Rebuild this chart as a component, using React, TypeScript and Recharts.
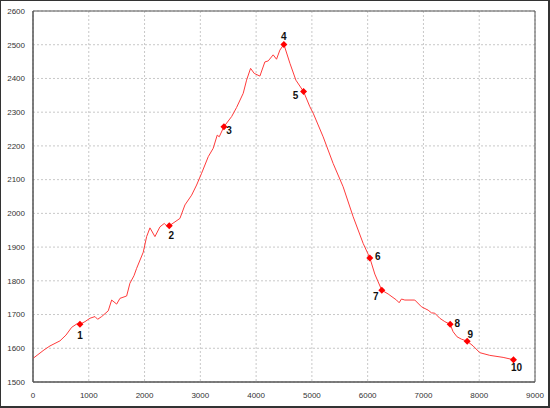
import { ComposedChart, Line, Scatter, XAxis, YAxis, CartesianGrid, ReferenceArea, LabelList } from 'recharts';

// distance along route (m) and elevation (m)
const distance = [
  0, 197, 305, 484, 591, 693, 783, 842, 932, 1021, 1111, 1159, 1231, 1349, 1410, 1500, 1559, 1679, 1738, 1810,
  1858, 1977, 2037, 2097, 2186, 2276, 2353, 2396, 2443, 2634, 2724, 2844, 2933, 3023, 3142, 3231, 3303, 3339, 3423,
  3561, 3650, 3769, 3829, 3901, 3966, 4068, 4157, 4217, 4306, 4366, 4426, 4498, 4606, 4713, 4851, 4964, 5023, 5202,
  5381, 5560, 5740, 5919, 6039, 6128, 6188, 6254, 6367, 6517, 6564, 6606, 6666, 6845, 6965, 7084, 7144, 7204, 7293,
  7383, 7479, 7532, 7603, 7682, 7784, 7890, 8010, 8189, 8428, 8614,
];
const elevation = [
  1570, 1595, 1607, 1622, 1639, 1662, 1672, 1671, 1679, 1689, 1694, 1686, 1694, 1711, 1743, 1731, 1748, 1755, 1793, 1815,
  1837, 1885, 1931, 1957, 1931, 1960, 1970, 1963, 1963, 1985, 2025, 2054, 2084, 2119, 2168, 2193, 2232, 2227, 2257,
  2287, 2314, 2356, 2395, 2430, 2415, 2407, 2449, 2452, 2470, 2457, 2484, 2501, 2445, 2395, 2361, 2316, 2297, 2227,
  2148, 2079, 1990, 1911, 1868, 1820, 1797, 1772, 1761, 1743, 1735, 1746, 1743, 1743, 1723, 1713, 1705, 1704, 1689,
  1679, 1671, 1649, 1634, 1627, 1621, 1607, 1587, 1579, 1573, 1566,
];

const wpNames = ['1', '2', '3', '4', '5', '6', '7', '8', '9', '10'];
const wpDistance = [842, 2443, 3423, 4498, 4851, 6039, 6254, 7479, 7784, 8614];
const wpElevation = [1671, 1963, 2257, 2501, 2361, 1868, 1772, 1671, 1621, 1566];

const xTicks = [0, 1000, 2000, 3000, 4000, 5000, 6000, 7000, 8000, 9000];
const yTicks = [1500, 1600, 1700, 1800, 1900, 2000, 2100, 2200, 2300, 2400, 2500, 2600];

// label placement around each waypoint marker (dx, dy in px)
const labelOffsets = [
  [0, 11], [2, 10], [5, 4], [0, -8], [-8, 4], [8, -1], [-6, 6], [7, -1], [3, -7], [3, 8],
];

const profile = distance.map((d, i) => ({ d, h: elevation[i] }));
const waypoints = wpNames.map((name, i) => ({ d: wpDistance[i], h: wpElevation[i], name }));

const tickStyle = { fontSize: 8, fill: '#333', fontFamily: 'Arial, "Liberation Sans", sans-serif' };

const Marker = (props: any) => {
  const { cx, cy } = props;
  const r = 3.5;
  return <polygon points={`${cx},${cy - r} ${cx + r},${cy} ${cx},${cy + r} ${cx - r},${cy}`} fill="#ff0000" />;
};

const WpLabel = (props: any) => {
  const { x, y, width, height, value, index } = props;
  const cx = x + (width || 0) / 2;
  const cy = y + (height || 0) / 2;
  const [dx, dy] = labelOffsets[index] || [0, 0];
  return (
    <text
      x={cx + dx}
      y={cy + dy}
      textAnchor="middle"
      dominantBaseline="central"
      fontSize={10}
      fontWeight="bold"
      fontFamily='Arial, "Liberation Sans", sans-serif'
      fill="#111"
    >
      {value}
    </text>
  );
};

export default function App() {
  return (
    <div style={{ position: 'fixed', left: 0, top: 0, width: 550, height: 408, background: '#fff' }}>
      <ComposedChart width={550} height={408} margin={{ top: 11, right: 15, bottom: 0, left: 0 }}>
        <CartesianGrid strokeDasharray="2 2" stroke="#c8c8c8" />
        <XAxis
          dataKey="d"
          type="number"
          domain={[0, 9000]}
          ticks={xTicks}
          tick={tickStyle}
          tickLine={false}
          tickMargin={4}
          height={26}
          axisLine={{ stroke: '#555' }}
          allowDataOverflow
        />
        <YAxis
          type="number"
          domain={[1500, 2600]}
          ticks={yTicks}
          tick={tickStyle}
          tickLine={false}
          width={33}
          axisLine={{ stroke: '#555' }}
          allowDataOverflow
        />
        <ReferenceArea x1={0} x2={9000} y1={1500} y2={2600} fill="none" stroke="#555" strokeWidth={1} ifOverflow="visible" />
        <Line
          data={profile}
          dataKey="h"
          type="linear"
          stroke="#ff3b3b"
          strokeWidth={1}
          dot={false}
          activeDot={false}
          isAnimationActive={false}
        />
        <Scatter data={waypoints} dataKey="h" shape={<Marker />} isAnimationActive={false}>
          <LabelList dataKey="name" content={<WpLabel />} />
        </Scatter>
      </ComposedChart>
      <div
        style={{
          position: 'absolute',
          left: 0,
          top: 0,
          width: 550,
          height: 408,
          boxSizing: 'border-box',
          border: '2px solid #333',
          borderLeftWidth: 1,
          borderTopWidth: 1,
          pointerEvents: 'none',
          zIndex: 10,
        }}
      />
    </div>
  );
}
